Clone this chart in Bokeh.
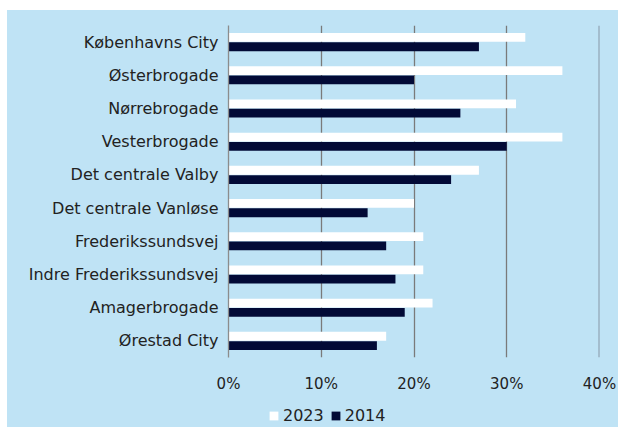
from bokeh.plotting import figure
from bokeh.layouts import column
from bokeh.models import FactorRange, ColumnDataSource, Legend, LegendItem, NumeralTickFormatter, FixedTicker, Span
from bokeh.transform import dodge
from bokeh.embed import file_html
from bokeh.resources import INLINE

categories = ["Københavns City", "Østerbrogade", "Nørrebrogade", "Vesterbrogade",
              "Det centrale Valby", "Det centrale Vanløse", "Frederikssundsvej",
              "Indre Frederikssundsvej", "Amagerbrogade", "Ørestad City"]
v2023 = [0.32, 0.36, 0.31, 0.36, 0.27, 0.20, 0.21, 0.21, 0.22, 0.17]
v2014 = [0.27, 0.20, 0.25, 0.30, 0.24, 0.15, 0.17, 0.18, 0.19, 0.16]
x_ticks = [0, 0.1, 0.2, 0.3, 0.4]
series = ["2023", "2014"]

BG = "#bfe3f5"
NAVY = "#020a36"
FONT = "DejaVu Sans"
TXT = "#222222"

src = ColumnDataSource(dict(cat=categories, v2023=v2023, v2014=v2014))

p = figure(width=611, height=390, output_backend="svg", toolbar_location=None,
           y_range=FactorRange(*list(reversed(categories)), range_padding=0),
           x_range=(0, 0.4),
           min_border_left=221, min_border_right=19, min_border_top=15, min_border_bottom=43)
p.background_fill_color = BG
p.border_fill_color = BG
p.outline_line_color = None

r1 = p.hbar(y=dodge("cat", 0.14, range=p.y_range), right="v2023", left=0, height=0.265,
            source=src, fill_color="white", line_color=None)
r2 = p.hbar(y=dodge("cat", -0.14, range=p.y_range), right="v2014", left=0, height=0.265,
            source=src, fill_color=NAVY, line_color=None)

p.ygrid.grid_line_color = None
p.xgrid.grid_line_color = "#7a7a7a"
p.xgrid.grid_line_width = 1.3
p.xgrid.ticker = FixedTicker(ticks=x_ticks[1:4])
edge = Span(location=x_ticks[-1], dimension="height", line_color="#8797a8", line_width=2)
p.add_layout(edge)

p.xaxis.ticker = FixedTicker(ticks=x_ticks)
p.xaxis.formatter = NumeralTickFormatter(format="0%")
p.xaxis.axis_line_color = None
p.xaxis.major_tick_line_color = None
p.xaxis.minor_tick_line_color = None
p.xaxis.major_tick_out = 0
p.xaxis.major_label_standoff = 17
p.xaxis.major_label_text_font = FONT
p.xaxis.major_label_text_font_size = "15px"
p.xaxis.major_label_text_color = TXT

p.yaxis.axis_line_color = "#8c8c8c"
p.yaxis.axis_line_width = 1.3
p.yaxis.major_tick_line_color = None
p.yaxis.minor_tick_line_color = None
p.yaxis.major_tick_out = 0
p.yaxis.major_label_standoff = 10
p.yaxis.major_label_text_font = FONT
p.yaxis.major_label_text_font_size = "16px"
p.yaxis.major_label_text_color = TXT

# legend strip below the chart (swatch renderers hold no drawable geometry)
lg = figure(width=611, height=27, output_backend="svg", toolbar_location=None,
            x_range=(0, 1), y_range=(0, 1), x_axis_location=None, y_axis_location=None,
            min_border_left=0, min_border_right=0, min_border_top=0, min_border_bottom=0)
lg.background_fill_color = BG
lg.border_fill_color = BG
lg.outline_line_color = None
lg.grid.visible = False
nan = float("nan")
swatch = ColumnDataSource(dict(y=[nan], right=[nan]))
d1 = lg.hbar(y="y", right="right", height=0.5, source=swatch, fill_color="white", line_color=None)
d2 = lg.hbar(y="y", right="right", height=0.5, source=swatch, fill_color=NAVY, line_color=None)

legend = Legend(items=[LegendItem(label=series[0], renderers=[d1]),
                       LegendItem(label=series[1], renderers=[d2])],
                orientation="horizontal", location=(40, 2),
                glyph_width=11, glyph_height=11, label_height=9, label_text_font=FONT,
                label_text_font_size="16px", label_text_color=TXT,
                label_standoff=4, spacing=6, padding=0, margin=0,
                background_fill_alpha=0, border_line_color=None)
lg.add_layout(legend, "center")

layout = column(p, lg, spacing=0, margin=(10, 0, 0, 7), styles={"background-color": BG})

open("out.html", "w").write(file_html(layout, INLINE))
